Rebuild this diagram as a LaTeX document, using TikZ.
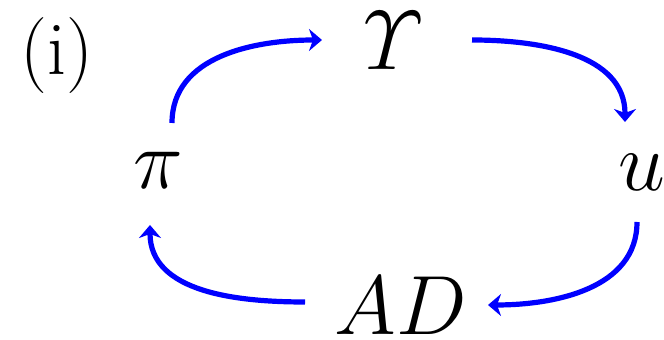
\RequirePackage{fix-cm}
\documentclass[tikz,border=0pt]{standalone}
\usepackage{amsmath}
\usetikzlibrary{arrows.meta}

\begin{document}
\begin{tikzpicture}[x=0.5pt,y=0.5pt,
		lbl/.style={inner sep=0pt, font=\fontsize{42}{50}\selectfont},
		flow/.style={color=blue, line width=2.6pt, -{Stealth[length=6.5pt,width=11pt,inset=2pt]}}]
			\useasboundingbox (0,0) rectangle (664,-340);
			\node[inner sep=0pt, font=\fontsize{38}{44}\selectfont] (tag) at (57,-56) {(i)};
			\node[lbl] (ups) at (393,-41) {$\varUpsilon$};
			\node[lbl] (pi) at (158,-170) {$\pi$};
			\node[lbl] (u) at (642,-172) {$u$};
			\node[lbl] (ad) at (401,-306) {$AD$};
			\draw[flow]([shift={(14,47)}]pi.center) to[out=90,in=180] ([shift={(-71,1)}]ups.center);
			\draw[flow]([shift={(79,1)}]ups.center) to[out=0,in=90] ([shift={(-17,50)}]u.center);
			\draw[flow]([shift={(-5,-50)}]u.center) to[out=-90,in=0] ([shift={(87,1)}]ad.center);
			\draw[flow]([shift={(-96,4)}]ad.center) to[out=180,in=-90] ([shift={(-8,-55)}]pi.center);
		\end{tikzpicture}
\end{document}
